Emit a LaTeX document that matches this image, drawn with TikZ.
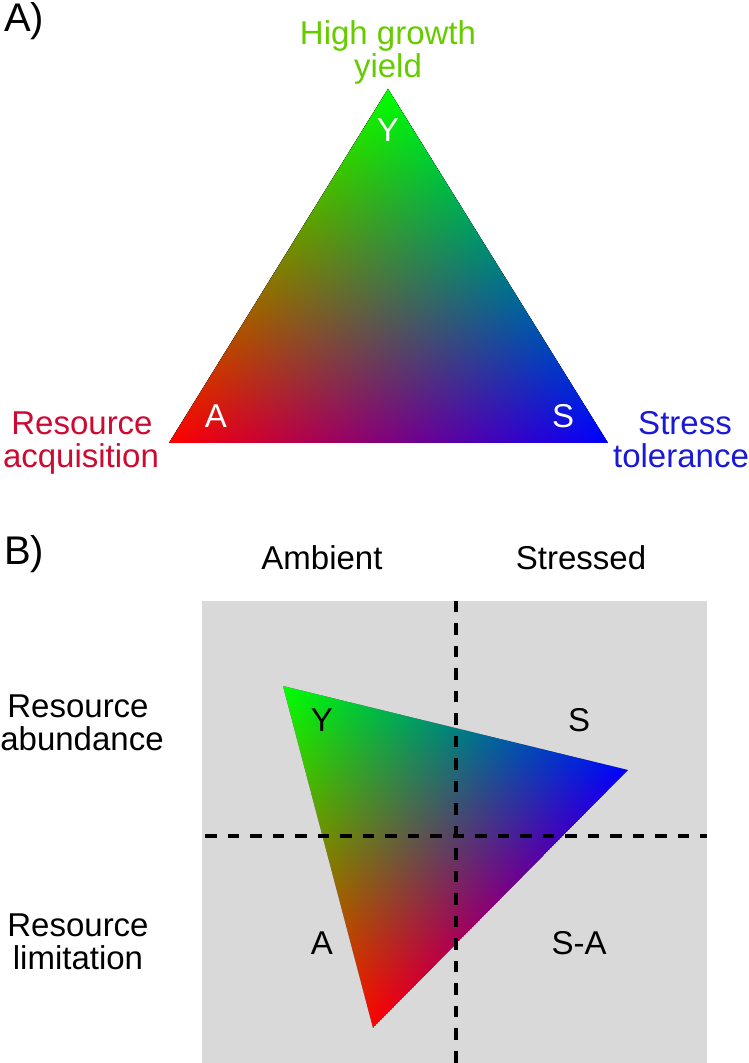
\documentclass[tikz,border=0pt]{standalone}
\usepackage{fontspec}
\setmainfont{Liberation Sans}
\definecolor{growthgreen}{RGB}{102,204,0}
\definecolor{acqred}{RGB}{204,10,50}
\definecolor{tolblue}{RGB}{25,25,215}
\definecolor{panelgray}{RGB}{217,217,217}
% one colour channel of a barycentric (Gouraud) triangle:
% #1,#2 vertex V ; #3,#4 and #5,#6 the opposite edge ; #7 colour
\newcommand\gradchannel[7]{%
  \pgfmathsetmacro\gcex{(#5)-(#3)}%
  \pgfmathsetmacro\gcey{(#6)-(#4)}%
  \pgfmathsetmacro\gcel{veclen(\gcex,\gcey)}%
  \pgfmathsetmacro\gcnx{(\gcey)/(\gcel)}%
  \pgfmathsetmacro\gcny{-(\gcex)/(\gcel)}%
  \pgfmathsetmacro\gcdd{((#3)-(#1))*(\gcnx)+((#4)-(#2))*(\gcny)}%
  \pgfmathsetmacro\gcang{atan2((\gcny)*(\gcdd),(\gcnx)*(\gcdd))}%
  \pgfmathsetmacro\gchh{abs(\gcdd)}%
  \begin{scope}[blend mode=screen,transform canvas={shift={(#1,#2)},rotate=\gcang}]
    \shade[left color=#7,right color=black] (0,-1500) rectangle (\gchh,1500);
  \end{scope}%
}
% #1,#2 red vertex ; #3,#4 green vertex ; #5,#6 blue vertex
\newcommand\rgbtri[6]{%
  \begin{scope}
    \clip (#1,#2) -- (#3,#4) -- (#5,#6) -- cycle;
    \fill[black] (#1,#2) -- (#3,#4) -- (#5,#6) -- cycle;
    \gradchannel{#1}{#2}{#3}{#4}{#5}{#6}{red}
    \gradchannel{#3}{#4}{#5}{#6}{#1}{#2}{green}
    \gradchannel{#5}{#6}{#1}{#2}{#3}{#4}{blue}
  \end{scope}%
}
\tikzset{
  txt/.style={inner sep=0pt,anchor=base,font=\fontsize{33}{33}\selectfont},
  paneltag/.style={inner sep=0pt,anchor=base west,font=\fontsize{40}{40}\selectfont},
  dashline/.style={line width=3.5pt,dash pattern=on 11.5pt off 11pt,draw=black},
}
\begin{document}
\begin{tikzpicture}[x=1pt,y=1pt]
\useasboundingbox (0,0) rectangle (748,1063);

% ---------------- Panel A ----------------
\node[paneltag] (tagA) at (4,1031) {A)};
\rgbtri{169}{620}{388}{974}{608}{620}
\node[txt,text=growthgreen] (hg1) at (388,1018) {High growth};
\node[txt,text=growthgreen] (hg2) at (388,985) {yield};
\node[txt,text=acqred] (ra1) at (82,628) {Resource};
\node[txt,text=acqred] (ra2) at (81,595) {acquisition};
\node[txt,text=tolblue] (st1) at (685,628) {Stress};
\node[txt,text=tolblue] (st2) at (681,595) {tolerance};
\node[txt,text=white] (vY) at (388,921) {Y};
\node[txt,text=white] (vA) at (216,635) {A};
\node[txt,text=white] (vS) at (563,635) {S};

% ---------------- Panel B ----------------
\node[paneltag] (tagB) at (4,498) {B)};
\node[txt] (amb) at (322,493) {Ambient};
\node[txt] (str) at (581,493) {Stressed};
\node[txt] (rab1) at (78,345) {Resource};
\node[txt] (rab2) at (82,312) {abundance};
\node[txt] (rli1) at (78,126) {Resource};
\node[txt] (rli2) at (78,93) {limitation};

\fill[panelgray] (202,0) rectangle (707,462);
\rgbtri{373}{35}{283}{377}{628}{293}

\coordinate (vtop) at (456,462);
\coordinate (vbot) at (456,0);
\coordinate (hleft) at (205,227);
\coordinate (hright) at (707,227);
\draw[dashline] (vtop) -- (vbot);
\draw[dashline] (hleft) -- (hright);

\node[txt] (qY) at (322,331) {Y};
\node[txt] (qS) at (579,331) {S};
\node[txt] (qA) at (322,108) {A};
\node[txt] (qSA) at (579,108) {S-A};
\end{tikzpicture}
\end{document}
